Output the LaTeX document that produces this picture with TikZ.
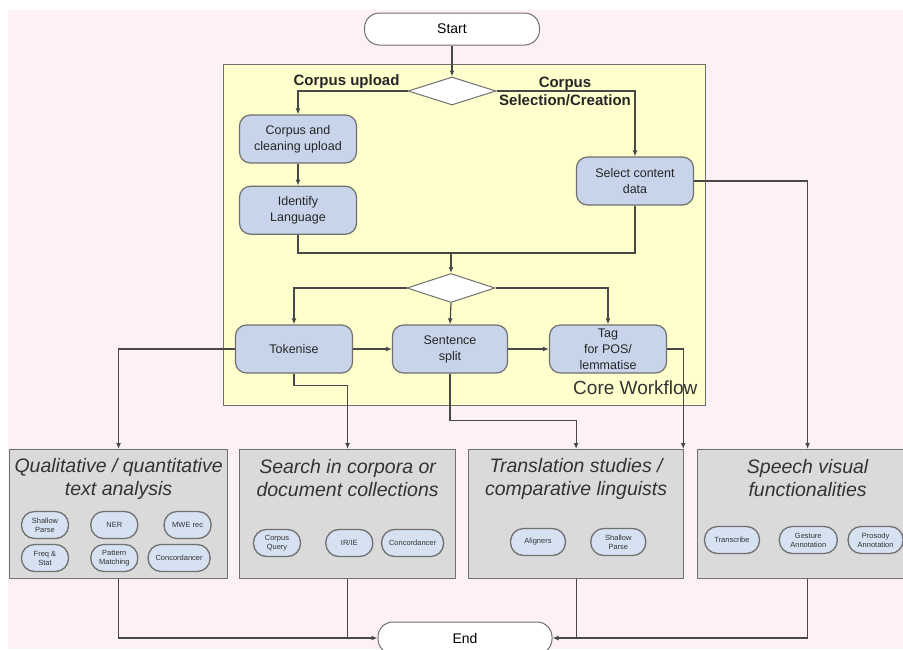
\documentclass[tikz,border=0pt]{standalone}
\usepackage{fontspec}
\setmainfont{Liberation Sans}
\usepackage{tikz}
\usetikzlibrary{arrows.meta, positioning, shapes.geometric}
\usepackage{xcolor}
\definecolor{pagepink}{RGB}{253,241,245}
\definecolor{coreyellow}{RGB}{255,255,206}
\definecolor{stepblue}{RGB}{200,212,234}
\definecolor{toolblue}{RGB}{214,225,242}
\definecolor{panelgray}{RGB}{218,218,218}
\definecolor{edgegray}{RGB}{112,112,112}
\definecolor{linegray}{RGB}{72,72,72}
\tikzset{
    % Start / End
    termbox/.style={rectangle, rounded corners=15pt, draw=edgegray, fill=white, line width=1pt,
                minimum width=175pt, minimum height=32pt, font=\fontsize{14}{16}\selectfont},
    % Decisions
    choice/.style={diamond, draw=edgegray, fill=white, line width=1pt, inner sep=0pt,
                minimum width=88pt, minimum height=28pt},
    choicelbl/.style={font=\fontsize{15}{18}\selectfont\bfseries, text=black!85, align=center},
    % Core workflow
    corebox/.style={rectangle, draw=edgegray, fill=coreyellow, line width=1pt, anchor=north west},
    corelbl/.style={font=\fontsize{19}{22}\selectfont, text=black!80},
    stepbox/.style={rectangle, rounded corners=11pt, draw=edgegray, fill=stepblue, line width=1.2pt,
                minimum width=117pt, minimum height=48pt, align=center, inner sep=1pt,
                font=\fontsize{12.5}{16}\selectfont, text=black!85},
    % Application panels
    panel/.style={rectangle, draw=edgegray, fill=panelgray, line width=1.2pt, anchor=north west,
                minimum height=129pt},
    paneltitle/.style={font=\fontsize{19.5}{23}\selectfont\itshape, text=black!80, align=center},
    tool/.style={rectangle, rounded corners=13pt, draw=edgegray, fill=toolblue, line width=1.3pt,
                minimum width=#1, minimum height=27pt, inner sep=0.5pt, align=center,
                font=\fontsize{7.5}{9}\selectfont, text=black!80},
    tool/.default=47pt,
    % Connectors
    flowline/.style={line width=1.2pt, linegray},
    flowarrow/.style={-{Latex[length=6pt, width=5pt]}, line width=1.2pt, linegray},
}
\begin{document}
\begin{tikzpicture}[x=1pt, y=-1pt]
\useasboundingbox (0,0) rectangle (903,649);
\fill[pagepink] (8,10) rectangle (903,649);

% core workflow
\node[corebox, minimum width=482pt, minimum height=341pt] (core) at (223,64) {};
\node[termbox] (start) at (452,29) {Start};
\node[choice] (d1) at (452,91) {};
\node[choicelbl, anchor=east] (upllbl) at (403,82) {Corpus upload};
\node[choicelbl] (sellbl) at (565,91) {Corpus\\Selection/Creation};
\node[stepbox] (upl) at (298,139) {Corpus and\\cleaning upload};
\node[stepbox, below=22pt of upl] (lang) {Identify\\Language};
\node[stepbox] (sel) at (635,181) {Select content\\data};
\node[choice, minimum height=29pt] (d2) at (451,288) {};
\node[stepbox] (tok) at (294,349) {Tokenise};
\node[stepbox, minimum width=115pt] (sent) at (450,349) {Sentence\\split};
\node[stepbox] (tag) at (608,349) {Tag\\for POS/\\lemmatise};
\node[corelbl, anchor=east] (corel) at (701,388) {Core Workflow};

% application panels
\node[panel, minimum width=218pt] (qual) at (9,449) {};
\node[panel, minimum width=216pt] (srch) at (239,449) {};
\node[panel, minimum width=215pt] (trans) at (468,449) {};
\node[panel, minimum width=220pt] (spch) at (697,449) {};
\node[paneltitle] (qualt) at ([yshift=-29.5pt]qual.north) {Qualitative / quantitative\\text analysis};
\node[paneltitle] (srcht) at ([yshift=-29.5pt]srch.north) {Search in corpora or\\document collections};
\node[paneltitle] (transt) at ([yshift=-29.5pt]trans.north) {Translation studies /\\comparative linguists};
\node[paneltitle] (spcht) at ([yshift=-29.5pt]spch.north) {Speech visual\\functionalities};

\node[tool] (qsp) at (45,525) {Shallow\\Parse};
\node[tool, right=21pt of qsp] (qner) {NER};
\node[tool, right=25pt of qner] (qmwe) {MWE rec};
\node[tool] (qfs) at (45,558) {Freq \&\\Stat};
\node[tool, right=21pt of qfs] (qpm) {Pattern\\Matching};
\node[tool=62pt, right=9pt of qpm] (qcon) {Concordancer};

\node[tool] (scq) at (277,543) {Corpus\\Query};
\node[tool, right=24pt of scq] (sir) {IR/IE};
\node[tool=62pt, right=7.5pt of sir] (scon) {Concordancer};

\node[tool=55pt] (tal) at (538,542) {Aligners};
\node[tool=55pt, right=24pt of tal] (tsp) {Shallow\\Parse};

\node[tool=55pt] (vtr) at (732,540) {Transcribe};
\node[tool=58pt, right=18.5pt of vtr] (vga) {Gesture\\Annotation};
\node[tool=55pt, right=9.5pt of vga] (vpa) {Prosody\\Annotation};

\node[termbox, minimum width=174pt] (end) at (465,638) {End};

% connectors
\coordinate (mrg) at (451,253);
\draw[flowarrow] (start) -- (d1);
\draw[flowarrow] (d1.west) -| (upl.north);
\draw[flowarrow] (d1.east) -| (sel.north);
\draw[flowarrow] (upl) -- (lang);
\draw[flowline] (lang.south) |- (mrg) -| (sel.south);
\draw[flowarrow] (mrg) -- (d2.north);
\draw[flowarrow] (d2.west) -| (tok.north);
\draw[flowarrow] (d2.south) -- (sent.north);
\draw[flowarrow] (d2.east) -| (tag.north);
\draw[flowarrow] (tok) -- (sent);
\draw[flowarrow] (sent) -- (tag);
\draw[flowarrow] (tok.west) -| (qual.north);
\draw[flowarrow] (tok.south) -- ++(0,12) -| (srch.north);
\draw[flowarrow] (sent.south) -- ++(0,47) -| (trans.north);
\draw[flowarrow] (tag.east) -| ([xshift=-1pt]trans.north east);
\draw[flowarrow] (sel.east) -| (spch.north);
\draw[flowarrow] (qual.south) |- (end.west);
\draw[flowline] (srch.south) -- (srch.south |- end.west);
\draw[flowarrow] (spch.south) |- (end.east);
\draw[flowline] (trans.south) -- (trans.south |- end.east);
\end{tikzpicture}
\end{document}
